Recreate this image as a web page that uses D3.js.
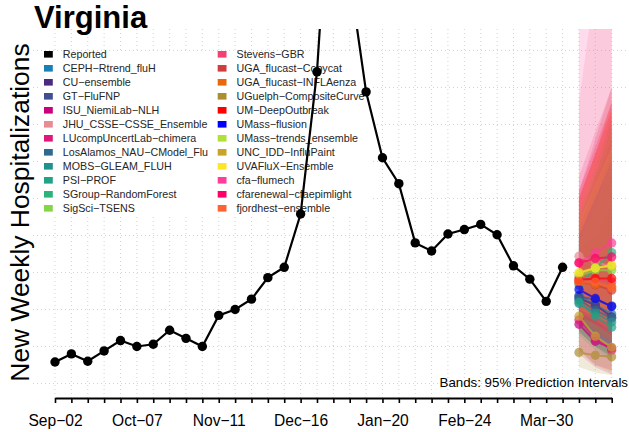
<!DOCTYPE html>
<html>
<head>
<meta charset="utf-8">
<script src="https://cdn.jsdelivr.net/npm/d3@7"></script>
<style>
  html, body { margin: 0; padding: 0; background: #fff; }
  svg { display: block; font-family: "Liberation Sans", Arial, Helvetica, sans-serif; }
</style>
</head>
<body>
<svg id="chart" width="629" height="432"></svg>
<script>
// ---------------- DATA ----------------
const weeks = [
  "2023-09-02","2023-09-09","2023-09-16","2023-09-23","2023-09-30",
  "2023-10-07","2023-10-14","2023-10-21","2023-10-28",
  "2023-11-04","2023-11-11","2023-11-18","2023-11-25",
  "2023-12-02","2023-12-09","2023-12-16","2023-12-23","2023-12-30",
  "2024-01-06","2024-01-13","2024-01-20","2024-01-27",
  "2024-02-03","2024-02-10","2024-02-17","2024-02-24",
  "2024-03-02","2024-03-09","2024-03-16","2024-03-23","2024-03-30",
  "2024-04-06","2024-04-13","2024-04-20","2024-04-27"
];
const tickWeeks  = ["2023-09-02","2023-10-07","2023-11-11","2023-12-16","2024-01-20","2024-02-24","2024-03-30"];
const tickLabels = ["Sep\u221202","Oct\u221207","Nov\u221211","Dec\u221216","Jan\u221220","Feb\u221224","Mar\u221230"];
const gridValues = [0, 50, 100, 150, 200, 250, 300, 350, 400, 450];

const reportedWeeks = weeks.slice(0, 32);
const reported = [29, 40, 30, 44, 58, 50, 53, 72, 61, 50, 92, 100, 114, 143, 157, 229,
                  421, 760, 549, 394, 305, 270, 190, 179, 202, 208, 215, 201, 159, 141, 111, 157];

const forecastWeeks = ["2024-04-13","2024-04-20","2024-04-27"];

const models = [
  "CEPH-Rtrend_fluH","CU-ensemble","GT-FluFNP","ISU_NiemiLab-NLH","JHU_CSSE-CSSE_Ensemble",
  "LUcompUncertLab-chimera","LosAlamos_NAU-CModel_Flu","MOBS-GLEAM_FLUH","PSI-PROF",
  "SGroup-RandomForest","SigSci-TSENS","Stevens-GBR","UGA_flucast-Copycat","UGA_flucast-INFLAenza",
  "UGuelph-CompositeCurve","UM-DeepOutbreak","UMass-flusion","UMass-trends_ensemble",
  "UNC_IDD-InfluPaint","UVAFluX-Ensemble","cfa-flumech","cfarenewal-cfaepimlight","fjordhest-ensemble"
];
const modelColors = [
  "#1a7fb5","#4a2c7f","#3f4f8f","#c8007f","#e88c94",
  "#e0177f","#2e6a8f","#21918c","#20a386",
  "#2db27d","#86d549","#f53e72","#d03d3d","#e8680a",
  "#ad8d32","#ff0000","#0000ff","#b2e034",
  "#c8a42a","#fde725","#ff3d9a","#ff0066","#ff6233"
];
const medians = [
  [119,106, 94],[115,106, 90],[118,113,105],[ 80, 57, 48],[172,164,158],
  [ 86, 61, 45],[113, 99, 88],[108, 95, 83],[110, 91, 76],
  [133,156,177],[145,153,153],[142,140,137],[137,133,126],[136,134,131],
  [ 42, 38, 36],[140,142,142],[127,115,104],[148,156,158],
  [ 91, 64, 49],[150,156,160],[163,177,190],[163,169,171],[138,137,129]
];
const lower95 = [
  [80,60,45],[70,50,35],[85,70,55],[45,25,18],[110,90,75],
  [40,22,12],[70,50,35],[70,50,38],[65,45,30],
  [80,70,65],[90,75,60],[80,60,45],[85,70,55],[85,70,55],
  [22,15,11],[90,80,70],[85,65,50],[95,85,70],
  [45,25,15],[100,90,80],[100,80,65],[95,80,65],[90,70,55]
];
const upper95 = [
  [200,250,310],[220,280,350],[190,240,300],[160,190,230],[380,540,700],
  [180,200,240],[210,270,330],[190,240,290],[200,260,320],
  [230,290,360],[220,280,340],[280,340,400],[260,330,400],[250,310,380],
  [150,210,280],[250,310,370],[200,250,300],[230,290,350],
  [190,240,300],[220,270,320],[480,700,900],[260,320,380],[250,310,380]
];

// ---------------- CHART ----------------
const svg = d3.select("#chart");
const plotLeft = 33, plotRight = 629, plotTop = 29, plotBottom = 398;

const x = d3.scalePoint().domain(weeks).range([55, 611.7]);
const y = d3.scaleLinear().domain([-19.6, 479]).range([plotBottom, plotTop]);

svg.append("defs").append("clipPath").attr("id", "plotclip")
  .append("rect").attr("x", plotLeft).attr("y", plotTop)
  .attr("width", plotRight - plotLeft).attr("height", plotBottom - plotTop);

// grid
const grid = svg.append("g").attr("stroke", "#d3d3d3").attr("stroke-width", 1)
  .attr("stroke-dasharray", "1,3");
grid.selectAll("line.v").data(weeks).join("line").attr("class", "v")
  .attr("x1", d => x(d)).attr("x2", d => x(d))
  .attr("y1", plotTop).attr("y2", plotBottom);
grid.selectAll("line.h").data(gridValues).join("line").attr("class", "h")
  .attr("x1", plotLeft).attr("x2", plotRight)
  .attr("y1", d => y(d)).attr("y2", d => y(d));

// legend
const legendEntries = [{name: "Reported", color: "#000000"}]
  .concat(models.map((m, i) => ({name: m, color: modelColors[i]})));
const legend = svg.append("g");
legend.append("rect").attr("x", 40).attr("y", 51).attr("width", 330).attr("height", 164)
  .attr("fill", "#fff");
const colX = [44, 217.7], rowY0 = 54.3, rowH = 14;
legendEntries.forEach((e, i) => {
  const col = Math.floor(i / 12), row = i % 12;
  const cy = rowY0 + row * rowH;
  legend.append("rect").attr("x", colX[col]).attr("y", cy - 3.3)
    .attr("width", 8.8).attr("height", 6.6).attr("fill", e.color);
  legend.append("text").attr("x", colX[col] + 18.8).attr("y", cy + 3.8)
    .attr("font-size", 10.7).attr("fill", "#262626")
    .text(e.name.replace(/-/g, "\u2212"));
});

// plot data
const plot = svg.append("g").attr("clip-path", "url(#plotclip)");

// reported
const lineGen = d3.line().x(d => x(d.w)).y(d => y(d.v));
const repData = reportedWeeks.map((w, i) => ({w, v: reported[i]}));
plot.append("path").datum(repData).attr("d", lineGen)
  .attr("fill", "none").attr("stroke", "#000").attr("stroke-width", 2.2);
plot.selectAll("circle.rep").data(repData).join("circle").attr("class", "rep")
  .attr("cx", d => x(d.w)).attr("cy", d => y(d.v)).attr("r", 4.7).attr("fill", "#000");

// bands
const area = d3.area().x(d => x(d.w)).y0(d => y(d.lo)).y1(d => y(d.hi));
models.forEach((m, i) => {
  const bd = forecastWeeks.map((w, k) => ({w, lo: lower95[i][k], hi: upper95[i][k]}));
  plot.append("path").datum(bd).attr("d", area)
    .attr("fill", modelColors[i]).attr("fill-opacity", 0.18).attr("stroke", "none");
});
// forecast medians
models.forEach((m, i) => {
  const fd = forecastWeeks.map((w, k) => ({w, v: medians[i][k]}));
  const g = plot.append("g").attr("opacity", 0.7);
  g.append("path").datum(fd).attr("d", lineGen)
    .attr("fill", "none").attr("stroke", modelColors[i]).attr("stroke-width", 2);
  g.selectAll("circle").data(fd).join("circle")
    .attr("cx", d => x(d.w)).attr("cy", d => y(d.v)).attr("r", 4.6).attr("fill", modelColors[i]);
});

// x axis
const labelMap = {};
tickWeeks.forEach((w, i) => labelMap[w] = tickLabels[i]);
const xAxis = d3.axisBottom(x).tickValues(weeks).tickSize(5).tickSizeOuter(0).tickPadding(12)
  .tickFormat(d => labelMap[d] || "");
const ax = svg.append("g").attr("transform", `translate(0,${plotBottom})`).call(xAxis);
ax.select(".domain").attr("stroke", "#000").attr("stroke-width", 2);
ax.selectAll(".tick line").attr("stroke", "#000").attr("stroke-width", 1.6);
ax.selectAll(".tick text").attr("font-size", 15.6).attr("fill", "#000")
  .attr("font-family", "Liberation Sans, Arial, sans-serif");

// y label
svg.append("text").attr("transform", "translate(28.5,212.5) rotate(-90)")
  .attr("text-anchor", "middle").attr("font-size", 26.4).attr("fill", "#000")
  .text("New Weekly Hospitalizations");

// title
svg.append("text").attr("x", 34).attr("y", 28).attr("font-size", 31)
  .attr("font-weight", "bold").attr("fill", "#000").text("Virginia");

// note
svg.append("text").attr("x", 628).attr("y", 387).attr("text-anchor", "end")
  .attr("font-size", 13.3).attr("fill", "#000").text("Bands: 95% Prediction Intervals");
</script>
</body>
</html>
